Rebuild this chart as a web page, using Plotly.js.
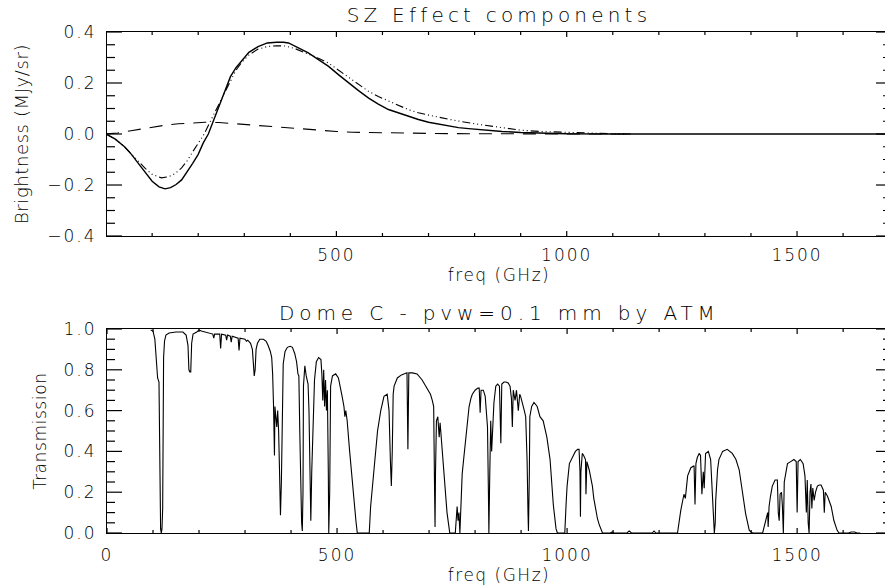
<!DOCTYPE html>
<html>
<head>
<meta charset="utf-8">
<script src="https://cdn.plot.ly/plotly-3.0.1.min.js"></script>
<style>
html, body { margin:0; padding:0; overflow:hidden; background:#fff; }
#chart { width:900px; height:587px; }
.xtick text, .x2tick text, .ytick text, .y2tick text { letter-spacing:2px; }
.gtitle { letter-spacing:4.2px; }
.annotation-text { letter-spacing:4.9px; }
.xtitle, .x2title { letter-spacing:1.5px; }
.ytitle, .y2title { letter-spacing:0.6px; }
</style>
</head>
<body>
<div id="chart"></div>
<script>
// ---- SZ effect components (top panel) ----
const szThermFreq = [0,20,40,55,70,85,100,115,128,140,152,164,176,188,200,211,222,235,247,258,270,282,294,310,330,350,370,385,396,415,439,461,483,505,526,548,570,591,613,635,657,678,700,722,743,765,787,808,830,860,900,950,1000,1100,1200,1704];
const szThermVal  = [0,-0.02,-0.05,-0.08,-0.115,-0.15,-0.185,-0.207,-0.215,-0.21,-0.198,-0.18,-0.15,-0.115,-0.08,-0.035,0,0.06,0.12,0.174,0.225,0.26,0.285,0.32,0.343,0.357,0.36,0.36,0.357,0.34,0.318,0.292,0.265,0.232,0.2,0.17,0.141,0.117,0.096,0.082,0.069,0.057,0.046,0.038,0.03,0.025,0.021,0.017,0.014,0.01,0.006,0.003,0.001,0,0,0];

const szRelFreq = [0,20,40,55,70,85,100,120,135,150,164,176,188,200,213,225,240,258,270,282,294,310,330,350,370,390,410,439,461,483,505,526,548,570,591,613,635,657,678,700,722,743,765,787,808,830,867,900,940,1000,1050,1100,1140];
const szRelVal  = [0,-0.02,-0.05,-0.078,-0.108,-0.135,-0.158,-0.172,-0.168,-0.155,-0.133,-0.105,-0.07,-0.035,0,0.045,0.1,0.165,0.21,0.25,0.28,0.31,0.333,0.343,0.346,0.345,0.335,0.314,0.297,0.278,0.25,0.22,0.193,0.167,0.147,0.13,0.112,0.095,0.083,0.073,0.066,0.058,0.05,0.044,0.038,0.033,0.022,0.015,0.01,0.006,0.003,0.001,0];

const szKinFreq = [0,25,54,80,106,130,157,185,215,245,280,320,360,391,413,440,470,500,535,587,650,710,800,900,1140];
const szKinVal  = [0,0.004,0.013,0.021,0.029,0.035,0.04,0.044,0.046,0.045,0.04,0.034,0.03,0.025,0.02,0.016,0.013,0.01,0.007,0.005,0.003,0.002,0.001,0,0];

// ---- Atmospheric transmission, Dome C (bottom panel) ----
const atmFreq = [95,100,104,107,110,113,115,116.5,118,119.5,121,122,123,125,128,135,150,165,172,176,178,180,182,184,187,195,200,205,215,225,230,232,234,245,247,249,258,260,262,268,270,272,285,287,289,300,303,306,312,316,318,320,322,324,327,332,340,346,350,355,358,360,362,364,365,367,369,371,373,375,377,379,381,383,387,392,398,403,408,412,415,417,419,421,423,424.5,426,427,430,433,437,439,441,443,445,447,449,451,455,460,465,467,469,471,473,475,477,479,481,482,484,486,490,497,503,507,511,515,517,519,522,527,531,534,538,541,544,570,573,577,581,588,595,602,609,613,616,618,620,622,624,631,640,646,652,654,656,664,674,685,696,703,707,710,712,713,714,716,719,722,724,728,732,735,739,742,745,757,759,761,763,765,767,769,772,776,780,784,787,791,794,800,806,809,811,813,818,822,825,827,829,830,832,834,836,838,841,845,849,853,856,858,863,867,872,876,879,881,883,887,890,894,897,899,903,907,910,913,915,916,918,919,923,928,935,941,948,956,963,966,968,970,972,974,976,979,995,998,1000,1005,1011,1018,1023,1026,1028,1029,1030,1033,1036,1040,1041,1043,1048,1055,1058,1062,1066,1070,1077,1094,1098,1102,1130,1135,1140,1185,1189,1193,1240,1247,1254,1257,1259,1262,1269,1276,1278,1280,1283,1287,1290,1293,1296,1298,1301,1307,1312,1316,1319,1320,1322,1323,1327,1330,1338,1348,1359,1367,1374,1381,1388,1396,1403,1425,1432,1436,1437,1439,1442,1446,1452,1457,1459,1461,1463,1466,1468,1470,1472,1476,1479,1486,1493,1498,1500,1502,1507,1513,1517,1520,1522,1524,1526,1528,1530,1532,1534,1537,1540,1544,1548,1552,1557,1559,1561,1566,1574,1580,1587,1591,1612,1617,1625,1630,1637];
const atmTrans = [0.995,0.99,0.95,0.86,0.76,0.74,0.12,0.02,0,0.02,0.12,0.75,0.86,0.94,0.97,0.98,0.985,0.985,0.97,0.92,0.8,0.79,0.79,0.93,0.975,0.985,0.995,0.99,0.985,0.98,0.975,0.955,0.975,0.975,0.905,0.975,0.97,0.945,0.97,0.965,0.935,0.965,0.955,0.895,0.955,0.95,0.94,0.945,0.93,0.9,0.8,0.77,0.8,0.9,0.93,0.95,0.95,0.94,0.92,0.89,0.86,0.78,0.62,0.38,0.62,0.56,0.52,0.6,0.5,0.3,0.087,0.25,0.6,0.83,0.89,0.91,0.915,0.91,0.88,0.84,0.78,0.77,0.5,0.2,0.05,0.01,0.2,0.72,0.82,0.77,0.73,0.6,0.3,0.06,0.3,0.5,0.6,0.75,0.84,0.86,0.85,0.78,0.65,0.8,0.62,0.75,0.6,0.7,0.3,0,0.2,0.72,0.77,0.78,0.76,0.72,0.67,0.62,0.57,0.6,0.55,0.41,0.3,0.24,0.13,0.06,0,0,0.13,0.24,0.34,0.5,0.6,0.67,0.68,0.6,0.35,0.23,0.4,0.68,0.72,0.76,0.775,0.78,0.785,0.41,0.785,0.785,0.78,0.75,0.71,0.68,0.65,0.62,0.2,0.03,0.3,0.55,0.57,0.47,0.54,0.42,0.3,0.2,0.1,0.05,0,0,0.08,0.13,0.06,0.1,0,0.15,0.29,0.38,0.47,0.56,0.62,0.66,0.68,0.7,0.71,0.71,0.59,0.7,0.7,0.67,0.6,0.52,0.2,0,0.3,0.55,0.4,0.5,0.64,0.72,0.73,0.72,0.44,0.73,0.74,0.74,0.735,0.72,0.66,0.52,0.7,0.65,0.7,0.6,0.68,0.67,0.64,0.6,0.57,0.36,0.1,0.01,0.3,0.57,0.62,0.64,0.62,0.57,0.55,0.47,0.36,0.25,0.19,0.14,0.1,0.05,0.02,0,0,0.15,0.23,0.34,0.37,0.4,0.41,0.41,0.3,0.08,0.3,0.39,0.38,0.36,0.19,0.35,0.31,0.23,0.17,0.11,0.07,0.04,0,0,0.005,0,0,0.01,0,0,0.01,0,0,0.11,0.19,0.17,0.22,0.28,0.32,0.33,0.14,0.34,0.37,0.39,0.38,0.19,0.3,0.22,0.39,0.4,0.36,0.19,0.05,0,0.05,0.16,0.31,0.36,0.4,0.41,0.39,0.36,0.31,0.21,0.095,0.013,0,0,0.06,0.1,0.03,0.13,0.18,0.23,0.26,0.26,0.1,0.06,0.19,0.2,0.13,0,0.25,0.31,0.34,0.35,0.36,0.35,0.1,0.35,0.36,0.34,0.28,0.1,0.26,0.05,0,0.2,0.24,0.12,0.22,0.16,0.2,0.23,0.235,0.235,0.21,0.1,0.2,0.18,0.13,0.06,0.013,0,0,0.005,0.005,0,0];

// axis settings
const xRangeTop = [2,1704], xRangeBot = [0,1704];
const yRangeTop = [-0.4,0.4], yRangeBot = [0,1];
const domTop = [0.5928,1], domBot = [0,0.4072];

const FONT = {family:'DejaVu Sans, Liberation Sans, sans-serif', size:17, color:'#000', weight:300};
const TICK = {color:'#000', width:1.2};

const traces = [
  {x:szThermFreq, y:szThermVal, xaxis:'x', yaxis:'y', mode:'lines', line:{color:'#000', width:1.4}, name:'thermal'},
  {x:szRelFreq, y:szRelVal, xaxis:'x', yaxis:'y', mode:'lines', line:{color:'#000', width:1.1, dash:'8px,3px,1px,3px,1px,3px,1px,3px'}, name:'relativistic'},
  {x:szKinFreq, y:szKinVal, xaxis:'x', yaxis:'y', mode:'lines', line:{color:'#000', width:1.1, dash:'13px,9px'}, name:'kinetic'},
  {x:atmFreq, y:atmTrans, xaxis:'x2', yaxis:'y2', mode:'lines', line:{color:'#000', width:1.1}, name:'transmission'}
];

function xMain(range, anchor, titleText, lblStand){
  return {
    anchor: anchor, range: range, tickmode:'linear', tick0:0, dtick:500, ticks:'',
    mirror:true, showline:true, linecolor:'#000', linewidth:1,
    showgrid:false, zeroline:false, tickfont:FONT, ticklabelstandoff:lblStand,
    title:{text:titleText, font:FONT, standoff:2}, automargin:false
  };
}
function yMain(domain, anchor, range, titleText, titleSize, tstand){
  return {
    anchor: anchor, domain: domain, range: range, tickmode:'linear', tick0:0, dtick:0.2, ticks:'',
    mirror:true, showline:true, linecolor:'#000', linewidth:1,
    showgrid:false, zeroline:false, tickfont:FONT, tickformat:'.1f', ticklabelstandoff:6,
    title:{text:titleText, font:Object.assign({}, FONT, {size:titleSize}), standoff:tstand}, automargin:false
  };
}

// inward tick marks on all four sides, placed through the axes' own scales
const shapes = [];
function tickLine(o){ shapes.push(Object.assign({type:'line', layer:'above', line:TICK}, o)); }
function addXTicks(xr, yr, range){
  for(let i = 0; i <= 17; i++){
    const v = i*100;
    if(v < range[0] || v > range[1]) continue;
    const len = (i % 5 === 0) ? 5 : 3;
    tickLine({xref:xr, yref:yr+' domain', x0:v, x1:v, ysizemode:'pixel', yanchor:0, y0:0, y1:len});
    tickLine({xref:xr, yref:yr+' domain', x0:v, x1:v, ysizemode:'pixel', yanchor:1, y0:0, y1:-len});
  }
}
function addYTicks(xr, yr, lo, n){
  for(let i = 0; i <= n; i++){
    const v = Math.round((lo + i*0.05)*100)/100;
    const len = (Math.round(v*100) % 20 === 0) ? 15 : 8;
    tickLine({xref:xr+' domain', yref:yr, y0:v, y1:v, xsizemode:'pixel', xanchor:0, x0:0, x1:len});
    tickLine({xref:xr+' domain', yref:yr, y0:v, y1:v, xsizemode:'pixel', xanchor:1, x0:0, x1:-len});
  }
}
addXTicks('x', 'y', xRangeTop);
addYTicks('x', 'y', -0.4, 16);
addXTicks('x2', 'y2', xRangeBot);
addYTicks('x2', 'y2', 0, 20);

const layout = {
  width:900, height:587,
  margin:{l:107, r:9, t:32, b:54},
  paper_bgcolor:'#fff', plot_bgcolor:'#fff',
  showlegend:false,
  font:FONT,
  title:{text:'SZ Effect components', font:Object.assign({}, FONT, {size:20}), x:0.5, xref:'paper', xanchor:'center', y:1-15/587, yref:'container', yanchor:'middle'},
  xaxis: xMain(xRangeTop, 'y', 'freq (GHz)', 4),
  yaxis: yMain(domTop, 'x', yRangeTop, 'Brightness (MJy/sr)', 18, 14),
  xaxis2: xMain(xRangeBot, 'y2', 'freq (GHz)', 7),
  yaxis2: yMain(domBot, 'x2', yRangeBot, 'Transmission', 17, 12),
  shapes: shapes,
  annotations:[
    {text:'Dome C - pvw=0.1 mm by ATM', xref:'paper', yref:'paper', x:0.5, y:(533-313)/501, xanchor:'center', yanchor:'middle', showarrow:false, font:Object.assign({}, FONT, {size:20})}
  ]
};

Plotly.newPlot('chart', traces, layout, {displayModeBar:false, staticPlot:true});
</script>
</body>
</html>
